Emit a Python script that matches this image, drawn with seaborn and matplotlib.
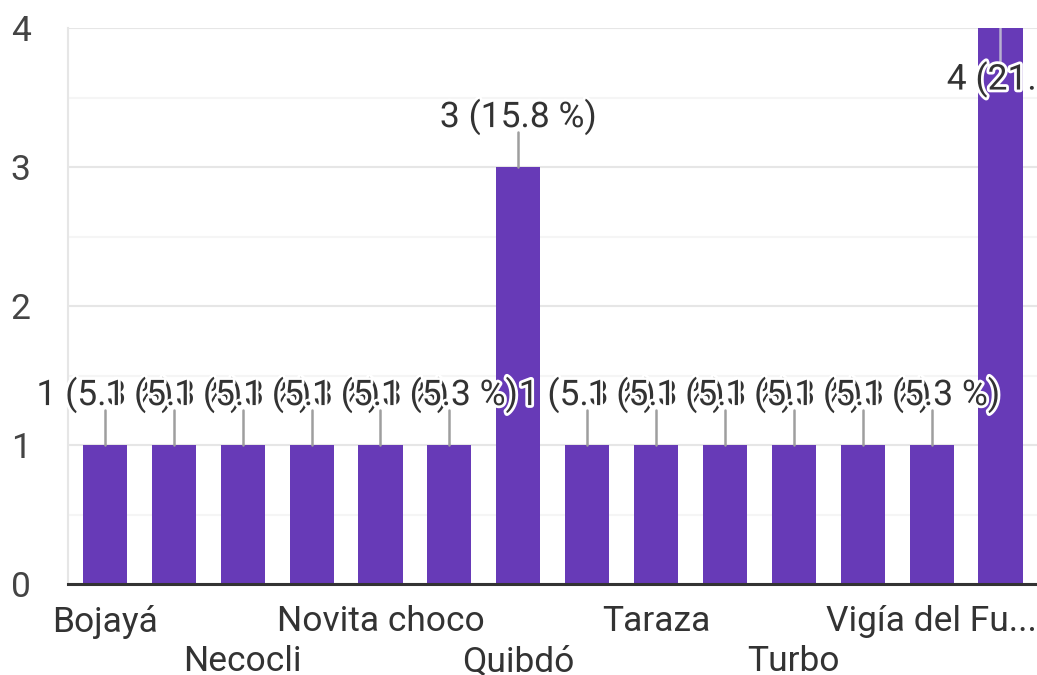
import matplotlib
matplotlib.use("Agg")
import matplotlib.pyplot as plt
import matplotlib.patheffects as pe
from matplotlib.ticker import MultipleLocator
import seaborn as sns
import pandas as pd

# Municipios: en el eje solo se ve uno de cada dos nombres
etiquetas = ["Bojayá", "", "Necocli", "", "Novita choco", "", "Quibdó", "",
             "Taraza", "", "Turbo", "", "Vigía del Fu...", ""]
respuestas = [1, 1, 1, 1, 1, 1, 3, 1, 1, 1, 1, 1, 1, 4]

MORADO = "#673ab7"
GRIS_TEXTO = "#333333"
TAM = 25.5

sns.set_theme(style="white")
plt.rcParams["font.family"] = ["Roboto", "DejaVu Sans"]

df = pd.DataFrame({"pos": range(len(respuestas)), "n": respuestas})
total = sum(respuestas)

fig = plt.figure(figsize=(10.37, 6.75), dpi=100)
ax = fig.add_axes([0.0656, 0.1348, 1 - 0.0656, 0.9585 - 0.1348])
sns.barplot(data=df, x="pos", y="n", color=MORADO, width=0.64,
            saturation=1, linewidth=0, ax=ax)

ax.set_xlim(-0.535, 13.53)
ax.set_ylim(0, 4)
ax.set_xlabel("")
ax.set_ylabel("")

# etiquetas de valor con linea guia
ymax = max(respuestas)
halo = [pe.withStroke(linewidth=4, foreground="white")]
for i, v in enumerate(respuestas):
    txt = f"{v} ({v / total * 100:.1f} %)"
    if v == ymax:
        ax.plot([i, i], [v, v - 0.25], color="#b8b0d0", lw=1.8, zorder=3)
        ax.text(i - 0.78, v - 0.37, txt, ha="left", va="center", fontsize=TAM,
                color=GRIS_TEXTO, zorder=4, path_effects=halo)
    else:
        ax.plot([i, i], [v, v + 0.25], color="#9e9e9e", lw=1.8, zorder=3)
        ax.text(i, v + 0.36, txt, ha="center", va="center", fontsize=TAM,
                color=GRIS_TEXTO, zorder=4, path_effects=halo)

# eje x en dos filas
fila1 = [0, 4, 8, 12]
fila2 = [2, 6, 10]
ax.set_xticks(fila1, labels=[etiquetas[i] for i in fila1])
ax.set_xticks(fila2, labels=[etiquetas[i] for i in fila2], minor=True)
ax.tick_params(axis="x", which="major", length=0, pad=15, labelsize=TAM,
               labelcolor=GRIS_TEXTO)
ax.tick_params(axis="x", which="minor", length=0, pad=44, labelsize=TAM,
               labelcolor=GRIS_TEXTO)

ax.set_yticks([0, 1, 2, 3, 4])
ax.yaxis.set_minor_locator(MultipleLocator(0.5))
ax.tick_params(axis="y", which="both", length=0, pad=27, labelsize=TAM,
               labelcolor="#444444")
ax.yaxis.grid(True, which="major", color="#e6e6e6", lw=1.5)
ax.yaxis.grid(True, which="minor", color="#f5f5f5", lw=1.5)
ax.xaxis.grid(False)
ax.set_axisbelow(True)

for s in ["top", "right"]:
    ax.spines[s].set_visible(False)
ax.spines["left"].set_color("#e6e6e6")
ax.spines["left"].set_linewidth(1.5)
ax.spines["bottom"].set_color(GRIS_TEXTO)
ax.spines["bottom"].set_linewidth(2.2)

fig.savefig("out.png", dpi=100)
